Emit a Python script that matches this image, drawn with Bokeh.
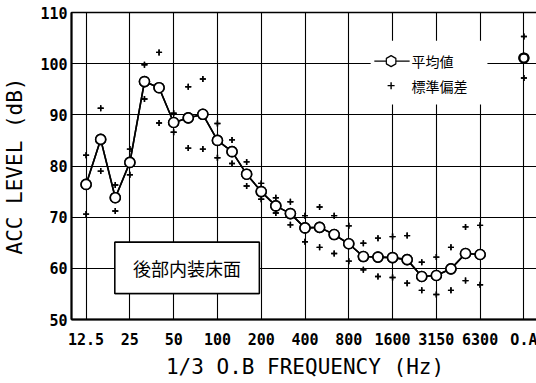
import numpy as np
from bokeh.plotting import figure
from bokeh.models import FixedTicker, Range1d
from bokeh.core.properties import value
from bokeh.embed import file_html
from bokeh.resources import INLINE

# 1/3 octave band centre frequencies (Hz)
bands = ["12.5", "16", "20", "25", "31.5", "40", "50", "63", "80", "100",
         "125", "160", "200", "250", "315", "400", "500", "630", "800", "1000",
         "1250", "1600", "2000", "2500", "3150", "4000", "5000", "6300"]

# mean acceleration level (dB) per band
mean_level = [76.4, 85.2, 73.8, 80.7, 96.5, 95.3, 88.5, 89.4, 90.1, 85.0,
              82.8, 78.4, 75.0, 72.2, 70.7, 67.9, 68.0, 66.6, 64.8, 62.3,
              62.2, 62.1, 61.7, 58.4, 58.6, 59.9, 62.9, 62.7]

# mean + standard deviation
upper_sd = [82.1, 91.3, 76.3, 83.3, 99.8, 102.2, 90.3, 95.5, 97.0, 88.3,
            85.1, 80.8, 76.6, 73.8, 73.0, 70.3, 72.0, 70.3, 68.3, 64.9,
            65.9, 66.2, 66.4, 61.2, 62.2, 64.1, 68.1, 68.4]

# mean - standard deviation
lower_sd = [70.6, 79.0, 71.2, 78.3, 93.1, 88.4, 86.6, 83.5, 83.3, 81.6,
            80.5, 76.1, 73.5, 70.8, 68.5, 65.2, 64.1, 62.9, 61.4, 59.7,
            58.4, 58.2, 57.1, 55.7, 54.9, 55.7, 57.6, 56.8]

# overall (O.A) value
overall_name = "O.A"
overall_mean = 101.1
overall_upper = 105.3
overall_lower = 97.2

tick_labels = ["12.5", "25", "50", "100", "200", "400", "800",
               "1600", "3150", "6300", "O.A"]
y_ticks = [50, 60, 70, 80, 90, 100, 110]

# slot layout: bands, two empty slots, then the overall column
slots = bands + ["", "", overall_name]
band_x = np.arange(len(bands))
oa_x = slots.index(overall_name)
tick_pos = [slots.index(t) for t in tick_labels]

X_LO, X_HI = -1, len(slots)
Y_LO, Y_HI = y_ticks[0], y_ticks[-1]

FRAME_W, FRAME_H = 467, 307
MONO = "DejaVu Sans Mono"
CJK = "Noto Sans CJK JP"

p = figure(frame_width=FRAME_W, frame_height=FRAME_H, output_backend="svg",
           toolbar_location=None,
           x_range=Range1d(X_LO, X_HI), y_range=Range1d(Y_LO, Y_HI),
           min_border_left=69, min_border_right=0, min_border_top=12,
           min_border_bottom=64)
p.outline_line_color = "black"
p.outline_line_width = 1.5
p.grid.visible = False

# axes; the major ticks run across the whole frame and act as grid lines
p.xaxis.ticker = FixedTicker(ticks=tick_pos)
p.xaxis.major_label_overrides = {pos: lab for pos, lab in zip(tick_pos, tick_labels)}
p.yaxis.ticker = FixedTicker(ticks=y_ticks)
for ax in (p.xaxis, p.yaxis):
    ax.axis_line_color = "black"
    ax.axis_line_width = 2
    ax.major_tick_line_color = "black"
    ax.major_tick_line_width = 1.1
    ax.minor_tick_line_color = None
    ax.major_tick_out = 0
    ax.major_label_text_font = MONO
    ax.major_label_text_font_style = "bold"
    ax.major_label_text_font_size = "15px"
    ax.major_label_text_color = "black"
    ax.axis_label_text_font = MONO
    ax.axis_label_text_font_style = "normal"
    ax.axis_label_text_font_size = "21px"
    ax.axis_label_text_color = "black"
p.xaxis.major_tick_in = FRAME_H
p.yaxis.major_tick_in = FRAME_W
p.xaxis.major_label_standoff = 11
p.yaxis.major_label_standoff = 4
p.xaxis.axis_label = "1/3 O.B FREQUENCY (Hz)"
p.yaxis.axis_label = "ACC LEVEL (dB)"
p.xaxis.axis_label_standoff = 3
p.yaxis.axis_label_standoff = 10


def draw_marks(level):
    # mean curve
    p.line(band_x, mean_level, line_color="black", line_width=1.6, level=level)
    p.scatter(band_x, mean_level, marker="circle", size=10, fill_color="white",
              line_color="black", line_width=1.6, level=level)
    # standard deviation marks
    p.scatter(band_x, upper_sd, marker="cross", size=6, line_color="black",
              line_width=1.4, level=level)
    p.scatter(band_x, lower_sd, marker="cross", size=6, line_color="black",
              line_width=1.4, level=level)

    # overall column
    p.scatter([oa_x], [overall_mean], marker="circle", size=9, fill_color="white",
              line_color="black", line_width=2.2, level=level)
    p.scatter([oa_x, oa_x], [overall_upper, overall_lower], marker="cross", size=6,
              line_color="black", line_width=1.4, level=level)

    # legend panel
    p.quad(left=19.5, right=27.5, bottom=92.0, top=104.5, fill_color="white",
           line_color=None, level=level)
    p.line([19.75, 22.17], [100.5, 100.5], line_color="black", line_width=1.2,
           level=level)
    p.scatter([20.9], [100.5], marker="hex", angle=np.pi / 6, size=11,
              fill_color="white", line_color="black", line_width=1.2, level=level)
    p.scatter([20.9], [95.7], marker="cross", size=7, line_color="black",
              line_width=1.4, level=level)
    p.text(x=[22.3, 22.3], y=[100.5, 95.7], text=["平均値", "標準偏差"],
           text_font=value(CJK), text_font_size="14px", text_align="left",
           text_baseline="middle", text_color="black", level=level)

    # location caption box
    p.quad(left=1.97, right=11.87, bottom=55.1, top=65.1, fill_color="white",
           line_color="black", line_width=1.5, level=level)
    p.text(x=[6.92], y=[60.1], text=["後部内装床面"], text_font=value(CJK),
           text_font_size="18px", text_align="center", text_baseline="middle",
           text_color="black", level=level)


# marks in the glyph layer, repeated in the overlay layer so they sit above
# the frame-spanning tick lines
draw_marks("glyph")
draw_marks("overlay")

open("out.html", "w").write(file_html(p, INLINE))
